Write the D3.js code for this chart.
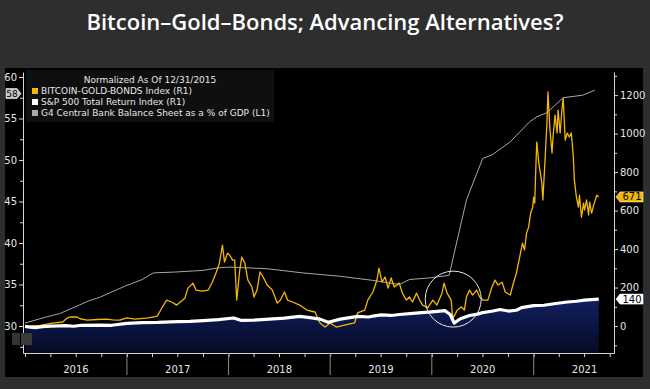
<!doctype html>
<html>
<head>
  <meta charset="utf-8">
  <title>Bitcoin-Gold-Bonds</title>
  <style>
    body {
      margin: 0;
      background: #2e2e2e;
    }
    svg {
      display: block;
    }
  </style>
</head>
<body>
  <div id="vis"></div>

  <script src="https://cdn.jsdelivr.net/npm/d3@7"></script>
  <script>

    // decimal year -> value
    var btcGoldBonds = [
      [2016.00, 0], [2016.15, 3], [2016.27, 15], [2016.37, 21], [2016.41, 40], [2016.44, 47],
      [2016.51, 47], [2016.54, 38], [2016.61, 31], [2016.71, 34], [2016.80, 36], [2016.86, 32],
      [2016.93, 31], [2017.00, 42], [2017.08, 36], [2017.21, 42], [2017.30, 52], [2017.35, 100],
      [2017.39, 135], [2017.44, 125], [2017.49, 109], [2017.57, 145], [2017.60, 197], [2017.65, 223],
      [2017.68, 187], [2017.74, 182], [2017.80, 187], [2017.84, 228], [2017.88, 281], [2017.91, 327],
      [2017.94, 420], [2017.96, 332], [2017.99, 379], [2018.01, 369], [2018.04, 343], [2018.06, 343],
      [2018.08, 135], [2018.11, 291], [2018.13, 358], [2018.16, 327], [2018.19, 239], [2018.23, 203],
      [2018.25, 151], [2018.28, 187], [2018.31, 281], [2018.34, 255], [2018.38, 213], [2018.43, 187],
      [2018.48, 119], [2018.51, 135], [2018.55, 177], [2018.58, 135], [2018.63, 125], [2018.70, 109],
      [2018.77, 83], [2018.85, 73], [2018.90, 16], [2018.95, -5], [2019.00, 16], [2019.06, -5],
      [2019.14, 5], [2019.24, 16], [2019.27, 68], [2019.34, 83], [2019.37, 135], [2019.42, 177],
      [2019.46, 239], [2019.48, 301], [2019.51, 228], [2019.54, 255], [2019.57, 197], [2019.60, 250],
      [2019.63, 203], [2019.68, 223], [2019.71, 171], [2019.75, 135], [2019.78, 151], [2019.81, 125],
      [2019.85, 171], [2019.88, 135], [2019.91, 109], [2019.96, 94], [2020.01, 135], [2020.05, 109],
      [2020.10, 171], [2020.12, 223], [2020.15, 171], [2020.19, 135], [2020.20, 68], [2020.21, 42],
      [2020.25, 83], [2020.29, 99], [2020.32, 83], [2020.34, 151], [2020.37, 187], [2020.40, 161],
      [2020.44, 187], [2020.47, 151], [2020.50, 135], [2020.55, 135], [2020.59, 203], [2020.62, 239],
      [2020.65, 213], [2020.69, 228], [2020.72, 177], [2020.77, 161], [2020.79, 203], [2020.83, 275],
      [2020.86, 353], [2020.89, 431], [2020.91, 395], [2020.93, 483], [2020.95, 514], [2020.97, 587],
      [2020.99, 618], [2021.00, 670], [2021.01, 639], [2021.02, 810], [2021.03, 956], [2021.05, 847],
      [2021.08, 743], [2021.09, 655], [2021.11, 847], [2021.13, 1055], [2021.14, 1216], [2021.16, 1018],
      [2021.18, 899], [2021.19, 982], [2021.21, 1096], [2021.23, 1003], [2021.24, 1122], [2021.26, 1003],
      [2021.28, 1138], [2021.29, 1184], [2021.31, 966], [2021.33, 1003], [2021.35, 982], [2021.37, 1003],
      [2021.39, 878], [2021.40, 758], [2021.42, 670], [2021.44, 618], [2021.45, 680], [2021.47, 566],
      [2021.49, 639], [2021.50, 603], [2021.52, 655], [2021.54, 577], [2021.55, 644], [2021.57, 587],
      [2021.59, 629], [2021.60, 644], [2021.62, 680], [2021.64, 671]
    ];

    var spxTotalReturn = [
      [2016.00, -2], [2016.05, -6], [2016.10, -8], [2016.17, -3], [2016.25, 0], [2016.40, 2],
      [2016.48, -1], [2016.55, 4], [2016.75, 5], [2016.85, 4], [2017.00, 14], [2017.15, 18],
      [2017.30, 19], [2017.50, 23], [2017.62, 24], [2017.75, 28], [2017.90, 33], [2018.05, 42],
      [2018.12, 30], [2018.25, 31], [2018.40, 36], [2018.55, 41], [2018.70, 50], [2018.80, 44],
      [2018.90, 36], [2018.98, 20], [2019.10, 36], [2019.27, 50], [2019.38, 47], [2019.42, 52],
      [2019.50, 58], [2019.60, 55], [2019.68, 60], [2019.87, 68], [2020.00, 74], [2020.13, 80],
      [2020.18, 60], [2020.22, 16], [2020.28, 38], [2020.37, 55], [2020.45, 62], [2020.50, 70],
      [2020.60, 78], [2020.67, 86], [2020.75, 78], [2020.83, 82], [2020.88, 96], [2021.00, 106],
      [2021.10, 108], [2021.20, 116], [2021.33, 125], [2021.42, 129], [2021.50, 135], [2021.64, 140]
    ];

    var g4BalanceSheet = [
      [2016.00, 30.35], [2016.18, 31.0], [2016.34, 31.5], [2016.51, 32.4], [2016.62, 33.0],
      [2016.74, 33.5], [2016.98, 34.8], [2017.15, 35.6], [2017.26, 36.4], [2017.47, 36.5],
      [2017.75, 36.7], [2017.89, 37.0], [2018.01, 37.1], [2018.38, 36.9], [2018.73, 36.4],
      [2019.09, 36.0], [2019.42, 35.5], [2019.68, 35.0], [2019.78, 35.6], [2019.98, 35.8],
      [2020.17, 36.1], [2020.34, 45.2], [2020.50, 50.2], [2020.59, 50.6], [2020.77, 52.2],
      [2020.96, 54.6], [2021.03, 55.2], [2021.13, 55.7], [2021.29, 57.5], [2021.48, 57.8],
      [2021.60, 58.4]
    ];

    var years = [2016, 2017, 2018, 2019, 2020, 2021];
    var leftTicks = [30, 35, 40, 45, 50, 55, 60];
    var rightTicks = [0, 200, 400, 600, 800, 1000, 1200];

    var legendItems = [
      { name: "BITCOIN-GOLD-BONDS Index (R1)", color: "#f5b800" },
      { name: "S&P 500 Total Return Index  (R1)", color: "#ffffff" },
      { name: "G4 Central Bank Balance Sheet as a % of GDP (L1)", color: "#a8a8a8" }
    ];

    var w = 650, h = 389;
    var font = "'DejaVu Sans', sans-serif";

    function toDate(y) {
      var yr = Math.floor(y);
      var a = new Date(yr, 0, 1), b = new Date(yr + 1, 0, 1);
      return new Date(+a + (y - yr) * (b - a));
    }

    var svg = d3.select("#vis").append("svg")
      .attr("width", w)
      .attr("height", h);

    // title
    svg.append("text")
      .attr("x", w / 2)
      .attr("y", 30)
      .attr("text-anchor", "middle")
      .attr("fill", "#ffffff")
      .style("font-family", "'Open Sans', sans-serif")
      .style("font-weight", 600)
      .style("font-size", "22px")
      .text("Bitcoin\u2013Gold\u2013Bonds; Advancing Alternatives?");

    // panel
    svg.append("rect")
      .attr("x", 5).attr("y", 68)
      .attr("width", 638).attr("height", 309)
      .attr("fill", "#000");

    var x = d3.scaleTime()
      .domain([toDate(2015.98), toDate(2021.79)])
      .range([23, 614]);

    var yL = d3.scaleLinear()
      .domain([26.75, 60.6])
      .range([353, 72]);

    var yR = d3.scaleLinear()
      .domain([-140, 1320])
      .range([353, 72]);

    var bottom = yR.range()[0];

    // navy area under S&P
    var grad = svg.append("defs").append("linearGradient")
      .attr("id", "navy")
      .attr("x1", 0).attr("y1", 0).attr("x2", 0).attr("y2", 1);
    grad.append("stop").attr("offset", "0%").attr("stop-color", "#112060");
    grad.append("stop").attr("offset", "100%").attr("stop-color", "#050a24");

    svg.append("path")
      .datum(spxTotalReturn)
      .attr("fill", "url(#navy)")
      .attr("d", d3.area()
        .x(function(d){ return x(toDate(d[0])); })
        .y0(bottom)
        .y1(function(d){ return yR(d[1]); }));

    // G4 balance sheet (left axis)
    svg.append("path")
      .datum(g4BalanceSheet)
      .attr("fill", "none")
      .attr("stroke", "#a8a8a8")
      .attr("stroke-width", 1)
      .attr("d", d3.line()
        .x(function(d){ return x(toDate(d[0])); })
        .y(function(d){ return yL(d[1]); }));

    // Bitcoin-gold-bonds
    svg.append("path")
      .datum(btcGoldBonds)
      .attr("fill", "none")
      .attr("stroke", "#f5b800")
      .attr("stroke-width", 1.3)
      .attr("stroke-linejoin", "round")
      .attr("d", d3.line()
        .x(function(d){ return x(toDate(d[0])); })
        .y(function(d){ return yR(d[1]); }));

    // S&P 500 line
    svg.append("path")
      .datum(spxTotalReturn)
      .attr("fill", "none")
      .attr("stroke", "#ffffff")
      .attr("stroke-width", 3.2)
      .attr("stroke-linejoin", "round")
      .attr("d", d3.line()
        .x(function(d){ return x(toDate(d[0])); })
        .y(function(d){ return yR(d[1]); }));

    // circle around the march 2020 sell-off
    svg.append("circle")
      .attr("cx", x(toDate(2020.21)))
      .attr("cy", yR(140))
      .attr("r", 28)
      .attr("fill", "none")
      .attr("stroke", "#e8e8e8")
      .attr("stroke-width", 1);

    // axes
    var axisColor = "#d8d8d8";

    function styleAxis(g) {
      g.selectAll("path, line").attr("stroke", axisColor);
      g.selectAll("text")
        .attr("fill", "#e6e6e6")
        .style("font-family", font)
        .style("font-size", "10px");
    }

    var minorL = d3.range(27.5, 60, 5);
    var minorR = d3.range(-100, 1320, 200);

    svg.append("g")
      .attr("transform", "translate(23,0)")
      .call(d3.axisLeft(yL).tickValues(minorL).tickSize(3).tickFormat("").tickSizeOuter(0))
      .call(styleAxis);
    svg.append("g")
      .attr("transform", "translate(23,0)")
      .call(d3.axisLeft(yL).tickValues(leftTicks).tickSize(4).tickPadding(2).tickSizeOuter(0))
      .call(styleAxis)
      .select(".domain").remove();

    svg.append("g")
      .attr("transform", "translate(614,0)")
      .call(d3.axisRight(yR).tickValues(minorR).tickSize(3).tickFormat("").tickSizeOuter(0))
      .call(styleAxis);
    svg.append("g")
      .attr("transform", "translate(614,0)")
      .call(d3.axisRight(yR).tickValues(rightTicks).tickSize(4).tickPadding(2)
        .tickFormat(d3.format("d")).tickSizeOuter(0))
      .call(styleAxis)
      .select(".domain").remove();

    // x axis: quarterly ticks, year separators, centred year labels
    svg.append("g")
      .attr("transform", "translate(0," + bottom + ")")
      .call(d3.axisBottom(x).ticks(d3.timeMonth.every(3)).tickSize(4).tickFormat("").tickSizeOuter(0))
      .call(styleAxis);

    svg.selectAll(".sep")
      .data(years.slice(1))
      .enter()
      .append("line")
      .attr("class", "sep")
      .attr("x1", function(d){ return x(toDate(d)); })
      .attr("x2", function(d){ return x(toDate(d)); })
      .attr("y1", bottom)
      .attr("y2", bottom + 22)
      .attr("stroke", "#8a8a8a");

    svg.selectAll(".yr")
      .data(years)
      .enter()
      .append("text")
      .attr("class", "yr")
      .attr("x", function(d){ return x(toDate(d + 0.5)); })
      .attr("y", bottom + 20)
      .attr("text-anchor", "middle")
      .attr("fill", "#e6e6e6")
      .style("font-family", font)
      .style("font-size", "10px")
      .text(function(d){ return d; });

    // legend
    var legend = svg.append("g");
    legend.append("rect")
      .attr("x", 26).attr("y", 70)
      .attr("width", 248).attr("height", 52)
      .attr("fill", "#0f0f0f");
    legend.append("text")
      .attr("x", 150).attr("y", 83)
      .attr("text-anchor", "middle")
      .attr("fill", "#e6e6e6")
      .style("font-family", font)
      .style("font-size", "9px")
      .text("Normalized As Of 12/31/2015");
    var li = legend.selectAll(".li")
      .data(legendItems)
      .enter()
      .append("g")
      .attr("transform", function(d, i){ return "translate(32," + (94 + i * 11) + ")"; });
    li.append("rect")
      .attr("x", 0).attr("y", -6)
      .attr("width", 6).attr("height", 6)
      .attr("fill", function(d){ return d.color; });
    li.append("text")
      .attr("x", 9).attr("y", 0)
      .attr("fill", "#e6e6e6")
      .style("font-family", font)
      .style("font-size", "9px")
      .text(function(d){ return d.name; });

    // last value tags
    function rightTag(val, color) {
      var yy = yR(val);
      var g = svg.append("g").attr("transform", "translate(616," + yy + ")");
      g.append("path")
        .attr("d", "M0,0 L4,-5 L27,-5 L27,5 L4,5 Z")
        .attr("fill", color)
        .attr("stroke", "#fff")
        .attr("stroke-width", 0.6);
      g.append("text")
        .attr("x", 16).attr("y", 3.5)
        .attr("text-anchor", "middle")
        .attr("fill", "#000")
        .style("font-family", font)
        .style("font-size", "10px")
        .text(val);
    }
    rightTag(btcGoldBonds[btcGoldBonds.length - 1][1], "#f5b800");
    rightTag(spxTotalReturn[spxTotalReturn.length - 1][1], "#ffffff");

    var lastG4 = Math.round(g4BalanceSheet[g4BalanceSheet.length - 1][1]);
    var tagL = svg.append("g").attr("transform", "translate(21," + yL(lastG4) + ")");
    tagL.append("path")
      .attr("d", "M0,0 L-4,-5 L-15,-5 L-15,5 L-4,5 Z")
      .attr("fill", "#c8c8c8")
      .attr("stroke", "#fff")
      .attr("stroke-width", 0.6);
    tagL.append("text")
      .attr("x", -9).attr("y", 3.5)
      .attr("text-anchor", "middle")
      .attr("fill", "#000")
      .style("font-family", font)
      .style("font-size", "9px")
      .text(lastG4);

    // little bloomberg toolbar stub, bottom left
    svg.append("rect").attr("x", 12).attr("y", 333).attr("width", 8).attr("height", 12).attr("fill", "#333");
    svg.append("rect").attr("x", 21).attr("y", 333).attr("width", 11).attr("height", 12).attr("fill", "#3a3a3a");

  </script>
</body>
</html>
